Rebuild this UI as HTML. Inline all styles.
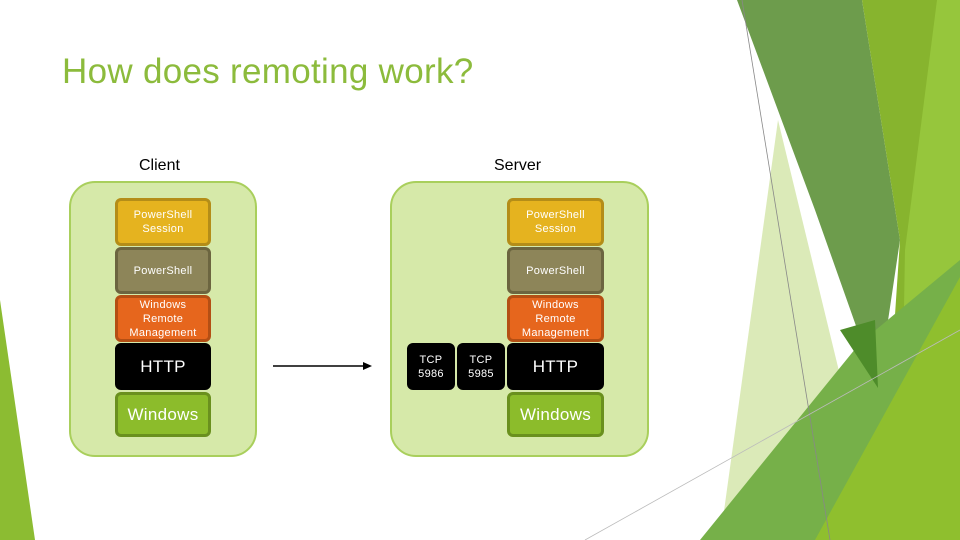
<!DOCTYPE html>
<html><head><meta charset="utf-8"><style>
body{margin:0;width:960px;height:540px;overflow:hidden;background:#fff;position:relative;font-family:"Liberation Sans","DejaVu Sans",sans-serif}
.a{position:absolute;box-sizing:border-box}
.cont{background:#d6e9a9;border:2px solid #a9cf5c;border-radius:26px}
.b{position:absolute;box-sizing:border-box;border-radius:6px;border:3px solid;color:#fff;display:flex;align-items:center;justify-content:center;text-align:center;font-size:11px;line-height:14px;letter-spacing:0.3px}
.ses{background:#e5b31f;border-color:#b48d18}
.ps{background:#8d8559;border-color:#6c6540}
.wrm{background:#e6661d;border-color:#b44f14}
.http{background:#000;border-color:#000;font-size:17px}
.win{background:#8cbc2b;border-color:#6a901e;font-size:17px}
.tcp{background:#000;border-color:#000;font-size:11px;line-height:14px}
</style></head><body>
<svg class="a" style="left:0;top:0" width="960" height="540">
<polygon points="0,300 35,540 0,540" fill="#8cbc32"/>
<polygon points="778,120 880,540 720,540" fill="#d7e8b0" opacity="0.9"/>
<polygon points="737,0 862,0 900,240 878,388 815,210" fill="#6d9c4c"/>
<polygon points="862,0 960,0 960,540 880,540 900,240" fill="#87b42e"/>
<polygon points="937,0 960,0 960,540 900,540 905,250" fill="#96c63c"/>
<polygon points="700,540 860,343 960,260 960,540" fill="#76b049"/>
<polygon points="815,540 960,277 960,540" fill="#8fbf2e"/>
<polygon points="840,330 878,388 875,320" fill="#4e8c2a"/>
<line x1="742" y1="0" x2="830" y2="540" stroke="#888" stroke-width="0.8"/>
<line x1="585" y1="540" x2="960" y2="330" stroke="#bbb" stroke-width="0.8"/>
</svg>
<div class="a" style="left:62px;top:52px;font-size:35px;color:#8cbb3c;letter-spacing:0.3px">How does remoting work?</div>
<div class="a" style="left:139px;top:157px;font-size:16px">Client</div>
<div class="a" style="left:494px;top:157px;font-size:16px">Server</div>
<div class="a cont" style="left:69px;top:181px;width:188px;height:276px"></div>
<div class="a cont" style="left:390px;top:181px;width:259px;height:276px"></div>
<div class="b ses" style="left:115px;top:198px;width:96px;height:48px">PowerShell<br>Session</div>
<div class="b ps" style="left:115px;top:247px;width:96px;height:47px">PowerShell</div>
<div class="b wrm" style="left:115px;top:295px;width:96px;height:47px">Windows<br>Remote<br>Management</div>
<div class="b http" style="left:115px;top:343px;width:96px;height:47px">HTTP</div>
<div class="b win" style="left:115px;top:392px;width:96px;height:45px">Windows</div>
<div class="b ses" style="left:507px;top:198px;width:97px;height:48px">PowerShell<br>Session</div>
<div class="b ps" style="left:507px;top:247px;width:97px;height:47px">PowerShell</div>
<div class="b wrm" style="left:507px;top:295px;width:97px;height:47px">Windows<br>Remote<br>Management</div>
<div class="b http" style="left:507px;top:343px;width:97px;height:47px">HTTP</div>
<div class="b win" style="left:507px;top:392px;width:97px;height:45px">Windows</div>
<div class="b tcp" style="left:407px;top:343px;width:48px;height:47px">TCP<br>5986</div>
<div class="b tcp" style="left:457px;top:343px;width:48px;height:47px">TCP<br>5985</div>
<svg class="a" style="left:270px;top:358px" width="105" height="16">
<line x1="3" y1="8" x2="94" y2="8" stroke="#000" stroke-width="1.5"/>
<polygon points="102,8 93,4 93,12" fill="#000"/>
</svg>
</body></html>
